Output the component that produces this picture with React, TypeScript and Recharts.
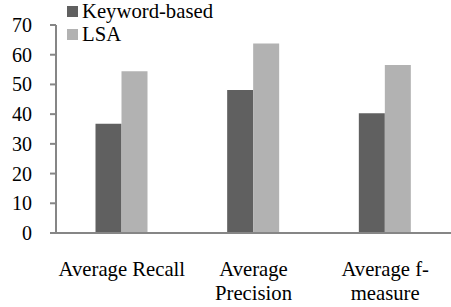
import React from "react";
import { BarChart, Bar, XAxis, YAxis, Legend } from "recharts";

const categories = ["Average Recall", "Average\nPrecision", "Average f-\nmeasure"];
const keywordBased = [36.8, 48.1, 40.3];
const lsa = [54.4, 63.8, 56.5];
const yTicks = [0, 10, 20, 30, 40, 50, 60, 70];
const seriesNames = ["Keyword-based", "LSA"];
const colors = ["#606060", "#b2b2b2"];

const data = categories.map((c, i) => ({
  name: c,
  kw: keywordBased[i],
  lsa: lsa[i],
}));

const FONT = "Liberation Serif";

const XTick = (props: any) => {
  const { x, y, payload } = props;
  const lines = String(payload.value).split("\n");
  return (
    <g transform={`translate(${x},${y})`}>
      {lines.map((l, i) => (
        <text
          key={i}
          x={0}
          y={35 + i * 23.5}
          textAnchor="middle"
          fontFamily={FONT}
          fontSize={20.7}
          fill="#000"
        >
          {l}
        </text>
      ))}
    </g>
  );
};

const YTick = (props: any) => {
  const { x, y, payload } = props;
  return (
    <text
      x={x}
      y={y}
      dy={7}
      textAnchor="end"
      fontFamily={FONT}
      fontSize={20}
      fill="#000"
    >
      {payload.value}
    </text>
  );
};

const LegendContent = () => (
  <div style={{ height: 0, overflow: "visible" }}>
    <div style={{ fontFamily: FONT, fontSize: 20.7, color: "#000", lineHeight: "23px", textAlign: "left" }}>
      {seriesNames.map((n, i) => (
        <div key={n} style={{ display: "flex", alignItems: "center" }}>
          <span
            style={{
              display: "inline-block",
              width: 11,
              height: 11,
              background: colors[i],
              marginRight: 4,
            }}
          />
          <span>{n}</span>
        </div>
      ))}
    </div>
  </div>
);

export default function App() {
  return (
    <div style={{ position: "absolute", left: 0, top: 0, background: "#fff" }}>
      <BarChart
        width={451}
        height={307}
        data={data}
        margin={{ top: 25, right: 0, bottom: 0, left: 0 }}
        barGap={0}
        barCategoryGap="30%"
      >
        <YAxis
          domain={[0, 70]}
          ticks={yTicks}
          interval={0}
          width={56}
          tickSize={6}
          tickMargin={18}
          tick={<YTick />}
          axisLine={{ stroke: "#868686", strokeWidth: 2 }}
          tickLine={{ stroke: "#868686", strokeWidth: 2 }}
        />
        <XAxis
          dataKey="name"
          tickLine={false}
          axisLine={{ stroke: "#868686", strokeWidth: 2 }}
          tick={<XTick />}
          interval={0}
          height={74}
        />
        <Legend
          verticalAlign="top"
          align="left"
          layout="horizontal"
          content={<LegendContent />}
          wrapperStyle={{ left: 67, top: 0, width: 200, height: 0 }}
        />
        <Bar dataKey="kw" name={seriesNames[0]} fill={colors[0]} isAnimationActive={false} />
        <Bar dataKey="lsa" name={seriesNames[1]} fill={colors[1]} isAnimationActive={false} />
      </BarChart>
    </div>
  );
}
